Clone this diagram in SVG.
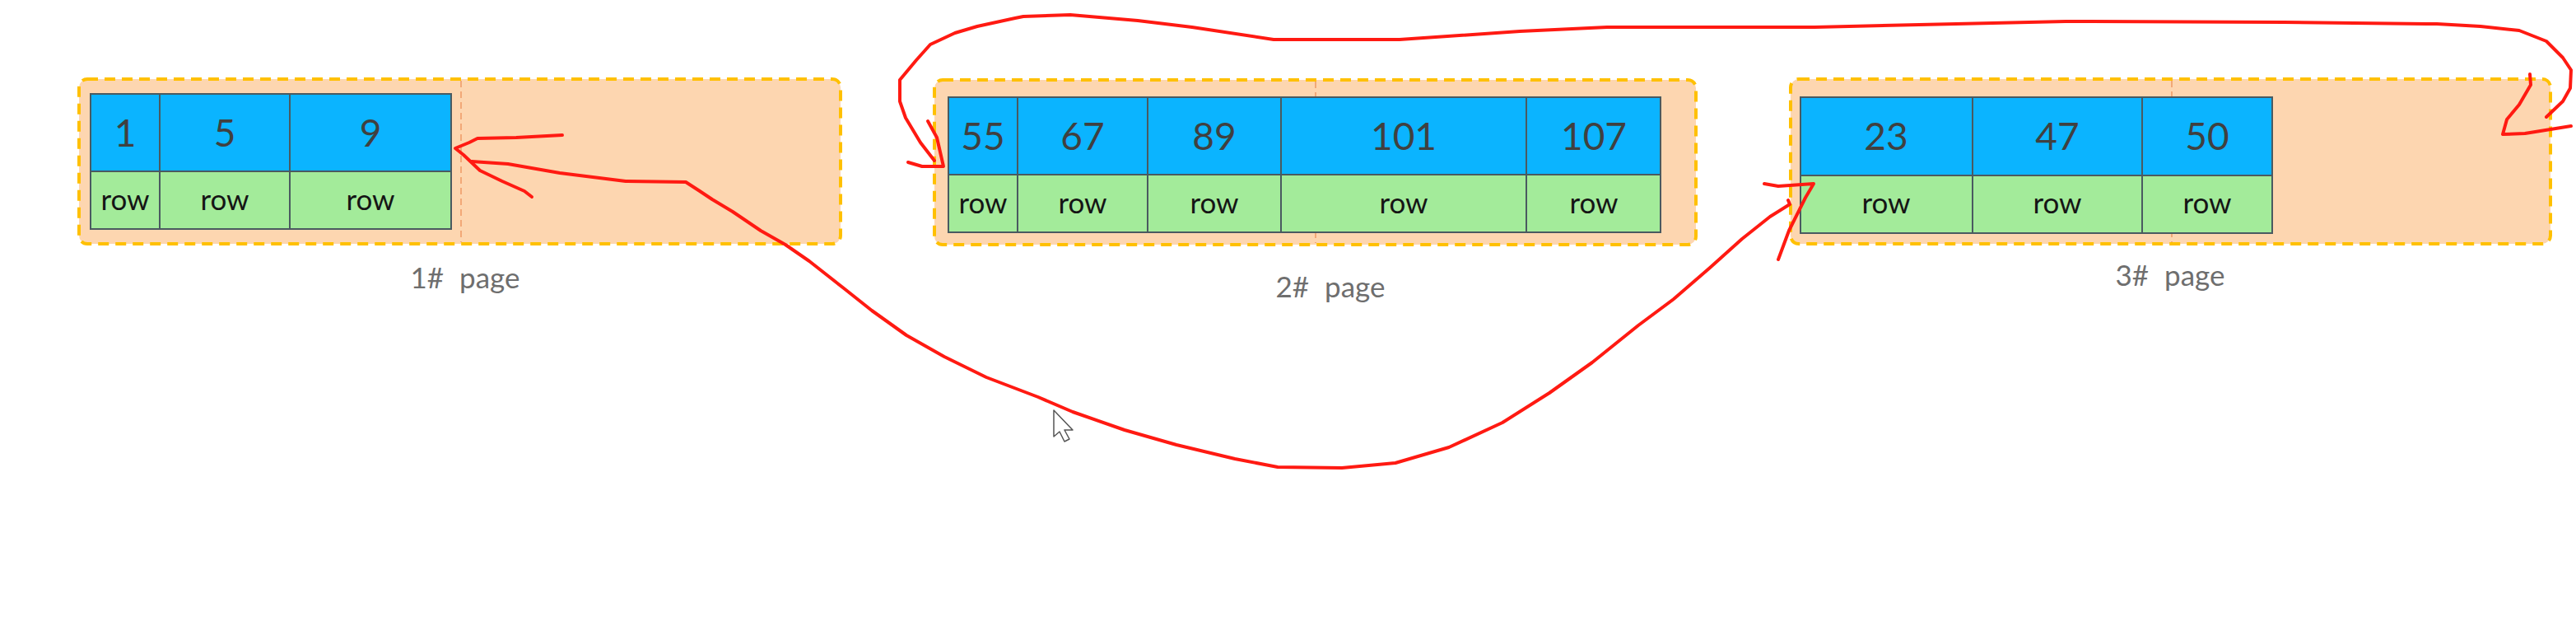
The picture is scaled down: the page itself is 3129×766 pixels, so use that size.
<svg xmlns="http://www.w3.org/2000/svg" width="3129" height="766" viewBox="0 0 3129 766">
<style>
.page{fill:#FDD6B0;stroke:#FFC000;stroke-width:4;stroke-dasharray:13 8}
.mid{stroke:#F2A877;stroke-width:2;stroke-dasharray:8 5;fill:none}
.key{fill:#0BB4FF;stroke:#4A5A60;stroke-width:2}
.row{fill:#A3EB9A;stroke:#4A5A60;stroke-width:2}
.num{font-family:Lato,"Open Sans",sans-serif;font-size:46px;fill:#404040;text-anchor:middle}
.rt{font-family:Lato,"Open Sans",sans-serif;font-size:35px;fill:#151515;text-anchor:middle}
.lbl{font-family:Lato,"Open Sans",sans-serif;font-size:35px;fill:#6E6E6E;text-anchor:middle;word-spacing:10px}
.ink{fill:none;stroke:#FF1A12;stroke-width:4;stroke-linecap:round;stroke-linejoin:round}
</style>
<rect width="3129" height="766" fill="#FFFFFF"/>
<g id="page1">
<rect class="page" x="96" y="96" width="925" height="200" rx="10"/>
<line class="mid" x1="560" y1="98" x2="560" y2="294"/>
<rect class="key" x="110" y="114" width="84" height="94"/>
<rect class="key" x="194" y="114" width="158" height="94"/>
<rect class="key" x="352" y="114" width="196" height="94"/>
<rect class="row" x="110" y="208" width="84" height="70"/>
<rect class="row" x="194" y="208" width="158" height="70"/>
<rect class="row" x="352" y="208" width="196" height="70"/>
<text class="num" x="152" y="178">1</text>
<text class="num" x="273" y="178">5</text>
<text class="num" x="450" y="178">9</text>
<text class="rt" x="152" y="255">row</text>
<text class="rt" x="273" y="255">row</text>
<text class="rt" x="450" y="255">row</text>
<text class="lbl" x="565" y="350">1# page</text>
</g>
<g id="page2">
<rect class="page" x="1135" y="97" width="925" height="200" rx="10"/>
<line class="mid" x1="1598" y1="99" x2="1598" y2="295"/>
<rect class="key" x="1152" y="118" width="84" height="94"/>
<rect class="key" x="1236" y="118" width="158" height="94"/>
<rect class="key" x="1394" y="118" width="162" height="94"/>
<rect class="key" x="1556" y="118" width="298" height="94"/>
<rect class="key" x="1854" y="118" width="163" height="94"/>
<rect class="row" x="1152" y="212" width="84" height="70"/>
<rect class="row" x="1236" y="212" width="158" height="70"/>
<rect class="row" x="1394" y="212" width="162" height="70"/>
<rect class="row" x="1556" y="212" width="298" height="70"/>
<rect class="row" x="1854" y="212" width="163" height="70"/>
<text class="num" x="1194" y="182">55</text>
<text class="num" x="1315" y="182">67</text>
<text class="num" x="1475" y="182">89</text>
<text class="num" x="1705" y="182">101</text>
<text class="num" x="1936" y="182">107</text>
<text class="rt" x="1194" y="259">row</text>
<text class="rt" x="1315" y="259">row</text>
<text class="rt" x="1475" y="259">row</text>
<text class="rt" x="1705" y="259">row</text>
<text class="rt" x="1936" y="259">row</text>
<text class="lbl" x="1616" y="361">2# page</text>
</g>
<g id="page3">
<rect class="page" x="2175" y="96" width="923" height="200" rx="10"/>
<line class="mid" x1="2638" y1="98" x2="2638" y2="294"/>
<rect class="key" x="2187" y="118" width="209" height="95"/>
<rect class="key" x="2396" y="118" width="206" height="95"/>
<rect class="key" x="2602" y="118" width="158" height="95"/>
<rect class="row" x="2187" y="213" width="209" height="70"/>
<rect class="row" x="2396" y="213" width="206" height="70"/>
<rect class="row" x="2602" y="213" width="158" height="70"/>
<text class="num" x="2291" y="182">23</text>
<text class="num" x="2499" y="182">47</text>
<text class="num" x="2681" y="182">50</text>
<text class="rt" x="2291" y="259">row</text>
<text class="rt" x="2499" y="259">row</text>
<text class="rt" x="2681" y="259">row</text>
<text class="lbl" x="2636" y="347">3# page</text>
</g>
<g id="connectors">
<polyline class="ink" points="573,196 617,199 680,210 760,220 833,221 850,232 865,242 890,257 924,280 954,297 983,317 1025,350 1059,377 1101,407 1147,433 1198,458 1261,482 1303,500 1366,522 1429,540 1500,557 1552,567 1630,568 1695,562 1760,543 1825,513 1882,477 1934,440 1990,395 2033,363 2077,325 2116,290 2150,263 2174,248 2172,243"/>
<polyline class="ink" points="683,164 627,167 580,168 570,173 553,180 563,188 583,207 610,220 637,232 646,239"/>
<polyline class="ink" points="2143,223 2160,226 2203,223 2193,240 2173,280 2160,315"/>
<polyline class="ink" points="3093,142 3113,123 3122,107 3123,85 3113,70 3093,50 3060,37 3013,32 2960,29 2947,29 2774,27 2509,26 2376,29 2204,33 1952,33 1846,38 1700,48 1547,48 1448,33 1382,25 1300,18 1243,20 1233,22 1187,32 1160,40 1130,54 1113,73 1093,97 1093,123 1100,143 1118,173 1135,195"/>
<polyline class="ink" points="3073,90 3074,103 3060,127 3045,145 3040,163 3067,162 3123,153"/>
<polyline class="ink" points="1127,147 1138,167 1146,202 1120,202 1103,197"/>
</g>
<polygon points="1280,498 1280,530 1287,524 1293,536 1299,533 1293,522 1303,522" fill="#FFFFFF" stroke="#555555" stroke-width="1.5" stroke-linejoin="round"/>
</svg>
